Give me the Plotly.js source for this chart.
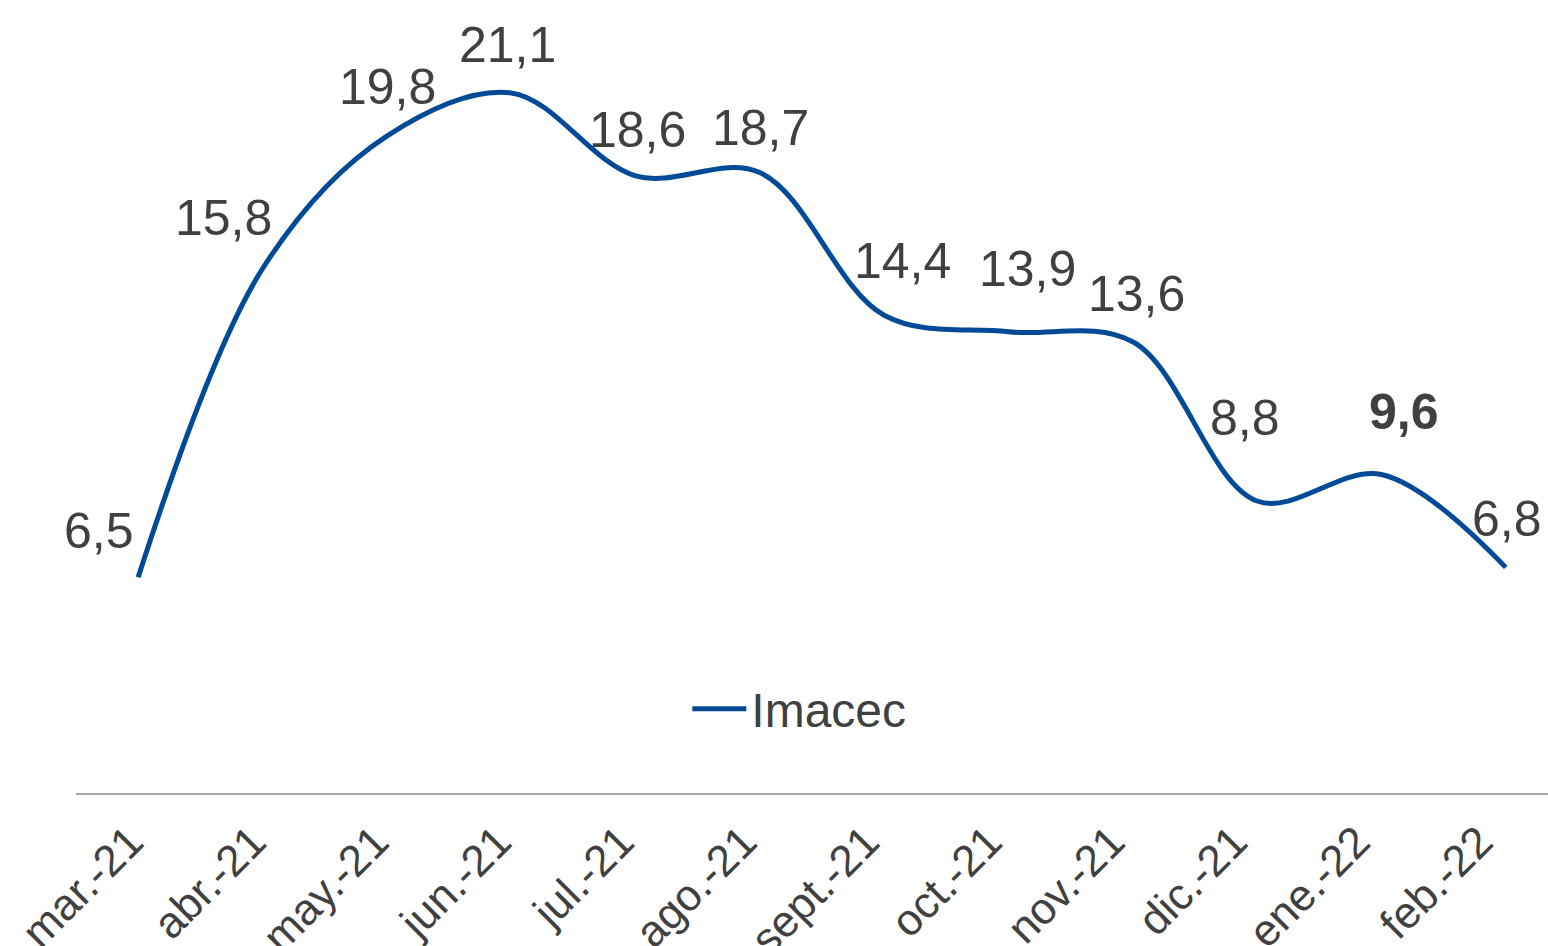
<!DOCTYPE html>
<html>
<head>
<meta charset="utf-8">
<script src="https://cdn.plot.ly/plotly-3.0.1.min.js"></script>
<style>
  html, body { margin: 0; padding: 0; background: #ffffff; }
  #chart { width: 1548px; height: 946px; }
</style>
</head>
<body>
<div id="chart"></div>
<script>
// ---- Data ----
const categories = ["mar.-21", "abr.-21", "may.-21", "jun.-21", "jul.-21", "ago.-21",
                    "sept.-21", "oct.-21", "nov.-21", "dic.-21", "ene.-22", "feb.-22"];
const imacec = [6.5, 15.8, 19.8, 21.1, 18.6, 18.7, 14.4, 13.9, 13.6, 8.8, 9.6, 6.8];
const seriesName = "Imacec";
const boldIndex = 10;

// ---- Label placement (pixels, layout only) ----
const labelDx = [-39, -39, 1, -4, 2, 1, 18, 19, 4, -12, 23, 1];
const labelDy = [46, 51, 49, 48, 46, 45, 54, 63, 48, 83, 62, 48];

const textColor = "#404040";
const lineColor = "#004A98";
const fontFam = "Liberation Sans, Arial, sans-serif";

const fmt = v => v.toFixed(1).replace(".", ",");

const xIdx = categories.map((c, i) => i);

const trace = {
  x: xIdx,
  y: imacec,
  name: seriesName,
  type: "scatter",
  mode: "lines",
  line: { color: lineColor, width: 5, shape: "spline", smoothing: 1 },
  hoverinfo: "skip"
};

// category axis carrying the month labels (same categories, evenly spread over the axis line)
const labelTrace = {
  x: xIdx,
  y: imacec,
  xaxis: "x2",
  yaxis: "y",
  type: "scatter",
  mode: "none",
  showlegend: false,
  hoverinfo: "skip"
};

const annotations = imacec.map((v, i) => ({
  x: i,
  y: v,
  xref: "x",
  yref: "y",
  text: i === boldIndex ? "<b>" + fmt(v) + "</b>" : fmt(v),
  showarrow: false,
  xanchor: "center",
  yanchor: "middle",
  xshift: labelDx[i],
  yshift: labelDy[i],
  font: { family: fontFam, size: 50, color: textColor }
}));

const layout = {
  width: 1548,
  height: 946,
  margin: { l: 76, r: 0, t: 0, b: 153 },
  paper_bgcolor: "#ffffff",
  plot_bgcolor: "#ffffff",
  showlegend: true,
  legend: {
    orientation: "h",
    x: 0.4153,
    y: 0.106,
    xanchor: "left",
    yanchor: "middle",
    itemwidth: 54,
    font: { family: fontFam, size: 48, color: textColor },
    bgcolor: "rgba(0,0,0,0)"
  },
  xaxis: {
    range: [-0.5, 11.34],
    showticklabels: false,
    showgrid: false,
    zeroline: false,
    showline: true,
    linecolor: "#A6A6A6",
    linewidth: 1.5,
    ticks: "",
    fixedrange: true
  },
  xaxis2: {
    overlaying: "x",
    anchor: "y",
    side: "bottom",
    range: [-0.5, 11.5],
    tickmode: "array",
    tickvals: xIdx,
    ticktext: categories,
    tickangle: -45,
    ticklabelshift: -7,
    ticklabelstandoff: 13,
    tickfont: { family: fontFam, size: 44, color: textColor },
    showgrid: false,
    zeroline: false,
    showline: false,
    ticks: "",
    fixedrange: true
  },
  yaxis: {
    range: [0, 23.9],
    visible: false,
    showgrid: false,
    zeroline: false,
    fixedrange: true
  },
  annotations: annotations
};

Plotly.newPlot("chart", [trace, labelTrace], layout, { displayModeBar: false, staticPlot: true });
</script>
</body>
</html>
